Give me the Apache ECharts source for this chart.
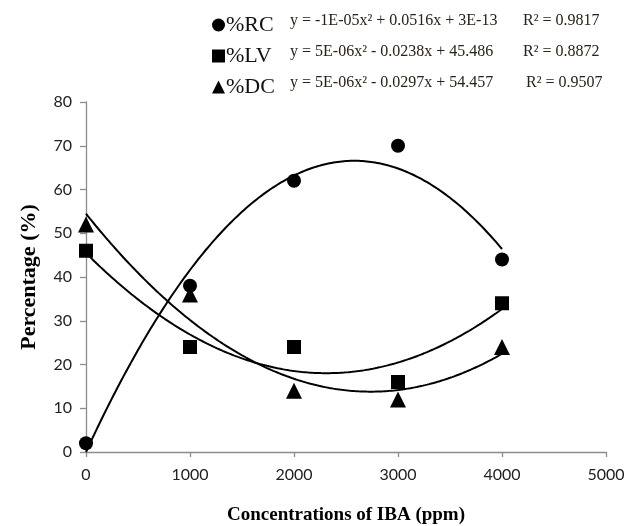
<!DOCTYPE html>
<html>
<head>
<meta charset="utf-8">
<script src="https://cdn.jsdelivr.net/npm/echarts@6/dist/echarts.min.js"></script>
<style>html,body{margin:0;padding:0;background:#fff}#c{width:627px;height:526px}</style>
</head>
<body>
<div id="c"></div>
<script>
// ---- data ----
var concentrations = [0, 1000, 2000, 3000, 4000];
var seriesNames = ['%RC', '%LV', '%DC'];
var rcValues = [2, 38, 62, 70, 44];
var lvValues = [46, 24, 24, 16, 34];
var dcValues = [52, 36, 14, 12, 24];
var equations = [
  'y = -1E-05x\u00B2 + 0.0516x + 3E-13',
  'y = 5E-06x\u00B2 - 0.0238x + 45.486',
  'y = 5E-06x\u00B2 - 0.0297x + 54.457'
];
var rSquared = ['R\u00B2 = 0.9817', 'R\u00B2 = 0.8872', 'R\u00B2 = 0.9507'];
var xTicks = [0, 1000, 2000, 3000, 4000, 5000];
var yTicks = [0, 10, 20, 30, 40, 50, 60, 70, 80];

// least-squares quadratic trendline (like Excel polynomial order 2)
function quadFit(xs, ys) {
  var n = xs.length, s = [0,0,0,0,0], t = [0,0,0];
  for (var i = 0; i < n; i++) {
    var x = xs[i] / 1000, p = 1;
    for (var k = 0; k < 5; k++) { s[k] += p; if (k < 3) t[k] += p * ys[i]; p *= x; }
  }
  var A = [[s[0],s[1],s[2],t[0]],[s[1],s[2],s[3],t[1]],[s[2],s[3],s[4],t[2]]];
  for (var c = 0; c < 3; c++) {
    for (var r = c + 1; r < 3; r++) {
      var f = A[r][c] / A[c][c];
      for (var j = c; j < 4; j++) A[r][j] -= f * A[c][j];
    }
  }
  var b = [0,0,0];
  for (var r2 = 2; r2 >= 0; r2--) {
    var v = A[r2][3];
    for (var j2 = r2 + 1; j2 < 3; j2++) v -= A[r2][j2] * b[j2];
    b[r2] = v / A[r2][r2];
  }
  return function (x) { var u = x / 1000; return b[0] + b[1] * u + b[2] * u * u; };
}
function trend(ys) {
  var f = quadFit(concentrations, ys), out = [];
  var x0 = concentrations[0], x1 = concentrations[concentrations.length - 1];
  for (var i = 0; i <= 200; i++) { var x = x0 + (x1 - x0) * i / 200; out.push([x, f(x)]); }
  return out;
}
function pts(ys) { return concentrations.map(function (x, i) { return [x, ys[i]]; }); }

var allValues = [rcValues, lvValues, dcValues];
var symbols = ['circle', 'rect', 'triangle'];
var symSizes = [14, 14, 16];

var series = [];
allValues.forEach(function (vals, i) {
  series.push({
    name: seriesNames[i], type: 'line', data: trend(vals), showSymbol: false,
    silent: true, lineStyle: { color: '#000', width: 2 }, z: 2, legendHoverLink: false
  });
});
allValues.forEach(function (vals, i) {
  series.push({
    name: seriesNames[i], type: 'scatter', data: pts(vals), symbol: symbols[i],
    symbolSize: symSizes[i], itemStyle: { color: '#000', opacity: 1 }, z: 3
  });
});

var serif = '"Liberation Serif", "Times New Roman", serif';
var graphics = [];
var rowY = [22, 53, 84];
for (var i = 0; i < 3; i++) {
  graphics.push({ type: 'text', left: 290, top: rowY[i] - 9,
    style: { text: equations[i], font: '16px ' + serif, fill: '#2a2118' } });
  graphics.push({ type: 'text', left: 523 + (i === 2 ? 3 : 0), top: rowY[i] - 9,
    style: { text: rSquared[i], font: '16px ' + serif, fill: '#2a2118' } });
}

var chart = echarts.init(document.getElementById('c'), null, { renderer: 'canvas' });
chart.setOption({
  animation: false,
  backgroundColor: '#fff',
  grid: { left: 86, right: 21, top: 102, bottom: 74, containLabel: false, outerBoundsMode: 'none' },
  legend: {
    data: seriesNames.map(function (n, i) { return { name: n, icon: symbols[i] }; }),
    orient: 'vertical', left: 207, top: 9, itemWidth: 13, itemHeight: 13, itemGap: 9,
    selectedMode: false,
    textStyle: { fontFamily: serif, fontSize: 22, color: '#111', lineHeight: 22, padding: [0,0,0,-4] },
    itemStyle: { color: '#000', opacity: 1 }
  },
  xAxis: {
    type: 'value', min: 0, max: 5000, interval: 1000,
    name: 'Concentrations of IBA (ppm)', nameLocation: 'middle', nameGap: 54,
    nameTextStyle: { fontFamily: serif, fontWeight: 'bold', fontSize: 19, color: '#000' },
    axisLine: { show: true, lineStyle: { color: '#8c8c8c', width: 1.3 } },
    axisTick: { show: true, length: 5, lineStyle: { color: '#8c8c8c', width: 1.3 } },
    axisLabel: { margin: 15, fontFamily: 'Lato, sans-serif', fontSize: 16, color: '#222',
      formatter: function (v) { return xTicks.indexOf(v) >= 0 ? String(v) : ''; } },
    splitLine: { show: false }
  },
  yAxis: {
    type: 'value', min: 0, max: 80, interval: 10,
    name: 'Percentage (%)', nameLocation: 'middle', nameGap: 46, nameRotate: 90,
    nameTextStyle: { fontFamily: serif, fontWeight: 'bold', fontSize: 22, color: '#000' },
    axisLine: { show: true, lineStyle: { color: '#8c8c8c', width: 1.3 } },
    axisTick: { show: true, length: 6, lineStyle: { color: '#8c8c8c', width: 1.3 } },
    axisLabel: { margin: 14, fontFamily: 'Lato, sans-serif', fontSize: 16, color: '#222',
      formatter: function (v) { return yTicks.indexOf(v) >= 0 ? String(v) : ''; } },
    splitLine: { show: false }
  },
  graphic: graphics,
  series: series
});
</script>
</body>
</html>
